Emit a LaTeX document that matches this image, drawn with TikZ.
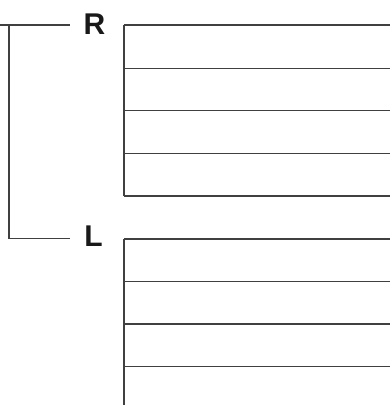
\documentclass[tikz,border=0pt]{standalone}
\usepackage{fontspec}
\setmainfont{Liberation Sans}
\begin{document}
\begin{tikzpicture}[x=1pt,y=-1pt,
  rule/.style={draw=black!75,line width=1.1pt},
  lbl/.style={font=\fontsize{30}{30}\selectfont\bfseries,inner sep=0pt,anchor=base,text=black!90}]
\useasboundingbox (0,0) rectangle (390,405);
% labels
\node[lbl] (R) at (94.5,34.3) {R};
\node[lbl] (L) at (93.5,246.7) {L};
% main bracket
\coordinate (rs) at (0,25);
\coordinate (re) at (70,25);
\coordinate (le) at (70,238.5);
\coordinate (vt) at (9,25);
\coordinate (vb) at (9,238.5);
\draw[rule] (rs) -- (re);
\draw[rule] (vt) -- (vb) -- (le);
% R group
\coordinate (r0) at (124,25);
\coordinate (r4) at (124,196);
\draw[rule] (r0) -- (r4);
\foreach \y in {25,68.3,110.7,153.3,196} \draw[rule] (124,\y) -- (390,\y);
% L group
\coordinate (l0) at (124,239);
\coordinate (l4) at (124,405);
\draw[rule] (l0) -- (l4);
\foreach \y in {239,281.7,324,366.7} \draw[rule] (124,\y) -- (390,\y);
\end{tikzpicture}
\end{document}
